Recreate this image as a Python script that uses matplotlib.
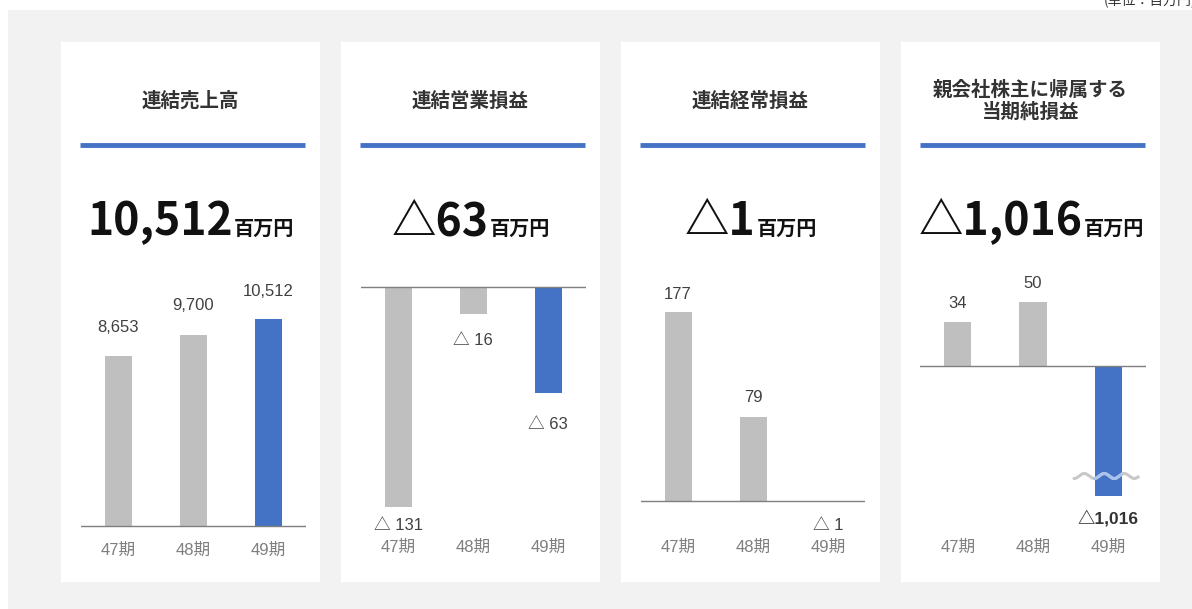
import numpy as np
import matplotlib
matplotlib.use("Agg")
import matplotlib.pyplot as plt
from matplotlib.patches import Rectangle
from matplotlib.transforms import blended_transform_factory

plt.rcParams['font.family'] = ['Noto Sans CJK JP', 'DejaVu Sans']
LABEL_FONT = ['Liberation Sans', 'Noto Sans CJK JP', 'DejaVu Sans']

# ---------------- data ----------------
periods = ['47期', '48期', '49期']
titles = ['連結売上高', '連結営業損益', '連結経常損益', '親会社株主に帰属する\n当期純損益']
sales = [8653, 9700, 10512]
operating_income = [-131, -16, -63]
ordinary_income = [177, 79, -1]
net_income = [34, 50, -1016]
unit_label = '百万円'
unit_note = '(単位：百万円)'
series = [sales, operating_income, ordinary_income, net_income]
label_space = [True, True, True, False]

# ---------------- layout ----------------
W, H = 1192, 609
BG = '#f2f2f2'
GRAY_BAR = '#bfbfbf'
BLUE = '#4472c4'
TXT = '#333333'

fig = plt.figure(figsize=(W / 100, H / 100), dpi=100)
fig.patch.set_facecolor('white')


def fx(x):
    return x / W


def fy(y):
    return 1 - y / H


# gray background
fig.patches.append(Rectangle((fx(8), 0), 1 - fx(8), fy(10), transform=fig.transFigure,
                             facecolor=BG, edgecolor='none', zorder=-3))

# per-panel layout: zero pixel row, px per unit, axes bottom px
zero_px = [526, 287, 501, 366]
scale_px = [207 / 10512, 1.68, 1.068, 1.29]
ax_bottom_px = [531, 531, 531, 496]
ax_top_px = 262
label_off = [[28, 29, 27], [18, 27, 32], [17, 19, 23], [19, 18, 22]]
tick_y_px = [550, 547, 547, 547]
card_w = 259


def fmt(v, space=True):
    if v < 0:
        return ('△ ' if space else '△') + f'{-v:,}'
    return f'{v:,}'


big_texts = []
for p in range(4):
    cl = 61 + 280 * p
    # card
    fig.patches.append(Rectangle((fx(cl), fy(582)), fx(card_w), fy(42) - fy(582),
                                 transform=fig.transFigure, facecolor='white',
                                 edgecolor='none', zorder=-2))
    cx = cl + card_w / 2
    # title
    fig.text(fx(cx), fy(101), titles[p], ha='center', va='center', fontsize=14,
             fontweight='bold', color=TXT, linespacing=1.15, zorder=3)
    # blue rule
    fig.lines.append(plt.Line2D([fx(cl + 19), fx(cl + 244)], [fy(145), fy(145)],
                                transform=fig.transFigure, color=BLUE, lw=3.5,
                                solid_capstyle='butt', zorder=3))
    # headline number
    vals = series[p]
    t1 = fig.text(0, fy(235), fmt(vals[-1], space=False), ha='left', va='baseline',
                  fontsize=32, fontweight='bold', color='#111111', zorder=3)
    t2 = fig.text(0, fy(235), unit_label, ha='left', va='baseline',
                  fontsize=14.5, fontweight='bold', color='#111111', zorder=3)
    big_texts.append((cx, t1, t2))

    # bar axes
    left_px = cl + 19.5
    ax = fig.add_axes([fx(left_px), fy(ax_bottom_px[p]), fx(225),
                       fy(ax_top_px) - fy(ax_bottom_px[p])])
    ax.set_zorder(2)
    ax.set_xlim(-0.5, 2.5)
    s = scale_px[p]
    ax.set_ylim(-(ax_bottom_px[p] - zero_px[p]) / s, (zero_px[p] - ax_top_px) / s)
    ax.set_axis_off()
    ax.patch.set_alpha(0)
    x = np.arange(len(periods))
    colors = [GRAY_BAR, GRAY_BAR, BLUE]
    ax.bar(x, vals, width=0.36, color=colors, zorder=2)
    ax.axhline(0, color='#7f7f7f', lw=1, zorder=3)
    ylo = ax.get_ylim()[0]
    for i, v in enumerate(vals):
        end = max(v, ylo)
        off = label_off[p][i] * 0.72
        bold_lab = (p == 3 and v < 0)
        ax.annotate(fmt(v, label_space[p]), xy=(i, end),
                    xytext=(0, off if v >= 0 else -off), textcoords='offset points',
                    ha='center', va='center', fontsize=12.5 if bold_lab else 12,
                    color='#333333' if bold_lab else '#404040',
                    family=LABEL_FONT,
                    fontweight='bold' if bold_lab else 'normal',
                    annotation_clip=False)
    tr = blended_transform_factory(ax.transData, fig.transFigure)
    for i, lab in enumerate(periods):
        ax.text(i, fy(tick_y_px[p]), lab, transform=tr, ha='center', va='center',
                fontsize=12, color='#7f7f7f', family=LABEL_FONT, clip_on=False)

    if p == 3:
        # break mark on the truncated bar
        wx = np.linspace(1.55, 2.4, 200)
        ypx = 476 + 2.5 * np.sin((wx - 1.55) * 75 / 20 * 2 * np.pi + np.pi / 2)
        wy = (zero_px[p] - ypx) / s
        ax.plot(wx, wy, color='#c8c8c8', lw=2.2, zorder=4, clip_on=False)
        inside = np.abs(wx - 2) <= 0.18
        ax.plot(wx[inside], wy[inside], color='#a8c4ee', lw=2.2, zorder=5, clip_on=False)

# unit note (clipped at top edge, as in the source)
fig.text(fx(1196), fy(0), unit_note, ha='right', va='center', fontsize=10,
         color='#333333')

# center headline number + unit
fig.canvas.draw()
r = fig.canvas.get_renderer()
for cx, t1, t2 in big_texts:
    w1 = t1.get_window_extent(r).width
    w2 = t2.get_window_extent(r).width
    start = cx - (w1 + w2) / 2
    t1.set_x(fx(start))
    t2.set_x(fx(start + w1 + 1))

fig.savefig('out.png', dpi=100, facecolor=fig.get_facecolor())
